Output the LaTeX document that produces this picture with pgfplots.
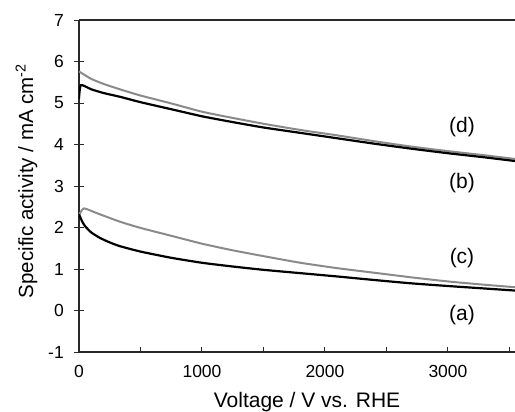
\documentclass[border=0pt]{standalone}
\usepackage{fontspec}
\setmainfont{Liberation Sans}
\usepackage{pgfplots}
\pgfplotsset{compat=1.18}
\definecolor{curvegray}{RGB}{138,138,138}
\definecolor{axisdark}{RGB}{40,40,40}

\begin{document}
\begin{tikzpicture}
\begin{axis}[
    at={(0,0)}, anchor=south west,
    scale only axis,
    width=436bp, height=332bp,
    xmin=0, xmax=3545,
    ymin=-1, ymax=7,
    axis x line=box, axis y line=left,
    axis line style={-, line width=1.3bp, axisdark},
    xtick={0,1000,2000,3000},
    minor xtick={0,500,...,3500},
    ytick={-1,0,...,7},
    xtick pos=left, ytick pos=left,
    xtick align=inside, ytick align=center,
    major tick length=10bp, minor tick length=5bp,
    major x tick style={draw=none},
    tick style={line width=1bp, axisdark},
    /pgf/number format/assume math mode=true,
    /pgf/number format/1000 sep={},
    xticklabel style={font=\fontsize{17.5bp}{20bp}\selectfont, anchor=north, inner sep=0pt, yshift=-13bp},
    yticklabel style={font=\fontsize{17.5bp}{20bp}\selectfont, anchor=east, inner sep=0pt, xshift=-10bp},
    xlabel={Voltage / V vs. RHE},
    ylabel={Specific activity / mA cm\textsuperscript{-2}},
    xlabel style={font=\fontsize{21bp}{24bp}\selectfont, at={(axis description cs:0.523,-0.1657)}, anchor=base},
    ylabel style={font=\fontsize{20.5bp}{24bp}\selectfont, at={(axis description cs:-0.1055,0.515)}, anchor=base},
    every axis plot/.append style={smooth, tension=0.35},
    clip=true
]

% (d)
\addplot[curvegray, line width=2bp] coordinates {
    (0,5.76) (100,5.58) (200,5.46) (333,5.33) (500,5.18) (750,4.99)
    (1000,4.79) (1250,4.64) (1500,4.50) (1800,4.35) (2100,4.22)
    (2400,4.08) (2700,3.95) (3000,3.84) (3300,3.74) (3550,3.65)
};
% (b)
\addplot[black, line width=2.2bp] coordinates {
    (0,5.10) (15,5.43) (100,5.33) (200,5.24) (333,5.15) (500,5.02) (750,4.85)
    (1000,4.68) (1250,4.54) (1500,4.41) (1800,4.28) (2100,4.15)
    (2400,4.02) (2700,3.90) (3000,3.79) (3300,3.69) (3550,3.60)
};
% (c)
\addplot[curvegray, line width=2bp] coordinates {
    (0,2.30) (40,2.46) (150,2.34) (333,2.14) (500,1.99) (750,1.80)
    (1000,1.61) (1250,1.45) (1500,1.31) (1800,1.15) (2100,1.02)
    (2400,0.91) (2700,0.80) (3000,0.70) (3300,0.62) (3550,0.56)
};
% (a)
\addplot[black, line width=2.2bp] coordinates {
    (0,2.32) (25,2.15) (50,2.03) (100,1.88) (170,1.75) (250,1.64) (333,1.55)
    (500,1.42) (750,1.27) (1000,1.15) (1250,1.06) (1500,0.98) (1800,0.90)
    (2100,0.82) (2400,0.735) (2700,0.655) (3000,0.59) (3300,0.53) (3550,0.48)
};

\node[font=\fontsize{21bp}{24bp}\selectfont] at (axis cs:3114,4.43) {(d)};
\node[font=\fontsize{21bp}{24bp}\selectfont] at (axis cs:3114,3.07) {(b)};
\node[font=\fontsize{21bp}{24bp}\selectfont] at (axis cs:3114,1.26) {(c)};
\node[font=\fontsize{21bp}{24bp}\selectfont] at (axis cs:3114,-0.11) {(a)};
\end{axis}
\pgfresetboundingbox
\path[use as bounding box] (-79bp,-60bp) rectangle (436bp,352bp);
\end{tikzpicture}
\end{document}
